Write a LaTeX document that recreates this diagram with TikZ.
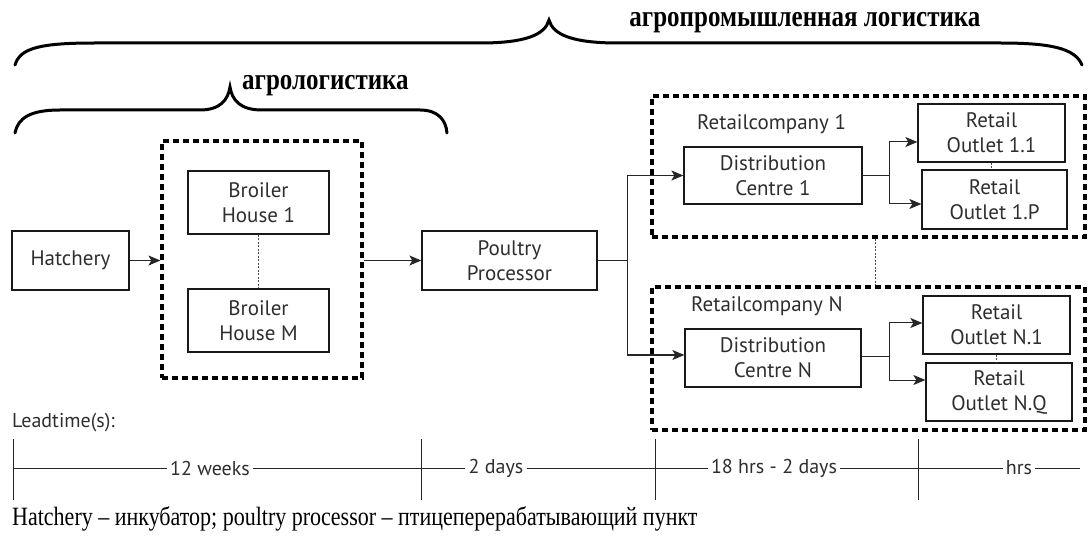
\documentclass[tikz,border=0pt]{standalone}
\usepackage{fontspec}
\setmainfont{Liberation Serif}
\newfontfamily\boxfont{PT Sans}
\usetikzlibrary{arrows.meta,calc}
\definecolor{txt}{HTML}{2E2E2E}
\tikzset{
  box/.style={draw=black!90, line width=1.3pt, font=\boxfont\fontsize{21}{25}\selectfont, text=txt, align=center, inner sep=0pt},
  grp/.style={draw=black, line width=3.2pt, dash pattern=on 6pt off 4pt, inner sep=0pt},
  conn/.style={draw=black!85, line width=1pt},
  arr/.style={conn, -{Stealth[length=12pt,width=10pt,inset=3pt]}},
  dotc/.style={draw=black!70, line width=0.6pt, dash pattern=on 2pt off 1.5pt},
  brace/.style={line width=3pt, line cap=round},
  lab/.style={font=\boxfont\fontsize{21}{25}\selectfont, text=txt, inner sep=0pt},
  tl/.style={font=\boxfont\fontsize{20}{24}\selectfont, text=txt, inner xsep=3pt, inner ysep=0pt},
  head/.style={font=\bfseries\fontsize{25}{30}\selectfont, inner sep=0pt, anchor=base},
}
\begin{document}
\begin{tikzpicture}[x=1pt,y=-1pt]
\useasboundingbox (0,0) rectangle (1088,540);
% braces
\draw[brace] (15,65) .. controls (20,48) and (40,43) .. (95,43) -- (480,43)
  .. controls (525,43) and (545,35) .. (549,20)
  .. controls (553,35) and (573,43) .. (618,43) -- (1000,43)
  .. controls (1050,43) and (1075,48) .. (1082,65);
\draw[brace] (15,133) .. controls (18,118) and (30,110) .. (60,110) -- (200,110)
  .. controls (220,110) and (228,100) .. (230,87)
  .. controls (232,100) and (240,110) .. (262,110) -- (420,110)
  .. controls (438,110) and (446,120) .. (447,133);
\node[head] (agroind) at (805,27) {\scalebox{1}[1.2]{агропромышленная логистика}};
\node[head] (agrolog) at (325.5,90) {\scalebox{1}[1.2]{агрологистика}};
% left part
\node[box, minimum width=117pt, minimum height=59pt] (hatch) at (70.5,260.5) {Hatchery};
\node[grp, minimum width=200pt, minimum height=237pt] (broilers) at (262,259.5) {};
\node[box, minimum width=141pt, minimum height=63pt] (bh1) at (258.5,202.5) {Broiler\\House 1};
\node[box, minimum width=141pt, minimum height=63pt] (bhm) at (258.5,320.5) {Broiler\\House M};
\node[box, minimum width=175pt, minimum height=59pt] (poultry) at (509.5,260.5) {Poultry\\Processor};
% retail companies
\node[grp, minimum width=433pt, minimum height=141pt] (rc1) at (868.5,166.5) {};
\node[grp, minimum width=433pt, minimum height=143pt] (rcn) at (868.5,358.5) {};
\node[lab, anchor=west] (rc1lab) at (697,124) {Retailcompany 1};
\node[lab, anchor=west] (rcnlab) at (691,306) {Retailcompany N};
\node[box, minimum width=178pt, minimum height=57pt] (dc1) at (773,175.5) {Distribution\\Centre 1};
\node[box, minimum width=176pt, minimum height=58pt] (dcn) at (773,358) {Distribution\\Centre N};
\node[box, minimum width=147pt, minimum height=58pt] (o11) at (991.5,133) {Retail\\Outlet 1.1};
\node[box, minimum width=145pt, minimum height=59pt] (o1p) at (994.5,199.5) {Retail\\Outlet 1.P};
\node[box, minimum width=147pt, minimum height=58pt] (on1) at (996.5,325) {Retail\\Outlet N.1};
\node[box, minimum width=146pt, minimum height=58pt] (onq) at (999,392) {Retail\\Outlet N.Q};
% connectors
\draw[arr] (hatch.east) -- (broilers.west |- hatch.east);
\draw[arr] (broilers.east |- poultry.west) -- (poultry.west);
\draw[dotc] (bh1.south) -- (bhm.north);
\coordinate (j0) at (627,260.5);
\draw[conn] (poultry.east) -- (j0);
\draw[arr] (j0) |- (dc1.west);
\draw[arr] (j0) |- ([yshift=3pt]dcn.west);
\coordinate (j1) at (889,175.5);
\draw[conn] (dc1.east) -- (j1);
\draw[arr] (j1) |- ([yshift=-9pt]o11.west);
\draw[arr] (j1) |- ([yshift=-4.5pt]o1p.west);
\coordinate (j2) at (889,356);
\draw[conn] ([yshift=2pt]dcn.east) -- (j2);
\draw[arr] (j2) |- ([yshift=2pt]on1.west);
\draw[arr] (j2) |- ([yshift=12pt]onq.west);
\draw[dotc] (o11.south) -- (o11.south |- o1p.north);
\draw[dotc] (on1.south) -- (on1.south |- onq.north);
\draw[dotc] ([xshift=6.5pt]rc1.south) -- ([xshift=6.5pt]rcn.north);
% lead times
\node[lab, anchor=west, font=\boxfont\fontsize{20}{24}\selectfont] (lead) at (12,423) {Leadtime(s):};
\coordinate (t0) at (13,468);
\coordinate (t1) at (421,468);
\coordinate (t2) at (655,468);
\coordinate (t3) at (918,468);
\coordinate (tend) at (1080,468);
\node[tl] (w12) at (210,468) {12 weeks};
\node[tl] (d2) at (496,468) {2 days};
\node[tl] (h18) at (774,468) {18 hrs - 2 days};
\node[tl] (hrs) at (1019,468) {hrs};
\foreach \t in {t0,t1,t2,t3} \draw[line width=0.8pt, black!85] ([yshift=29pt]\t) -- ([yshift=-32pt]\t);
\draw[line width=0.8pt, black!85] (t0) -- (w12.west) (w12.east) -- (d2.west) (d2.east) -- (h18.west) (h18.east) -- (hrs.west) (hrs.east) -- (tend);
\node[anchor=base west, font=\fontsize{22}{26}\selectfont, inner sep=0pt] (foot) at (12,525) {\scalebox{1}[1.2]{Hatchery – инкубатор; poultry processor – птицеперерабатывающий пункт}};
\end{tikzpicture}
\end{document}
